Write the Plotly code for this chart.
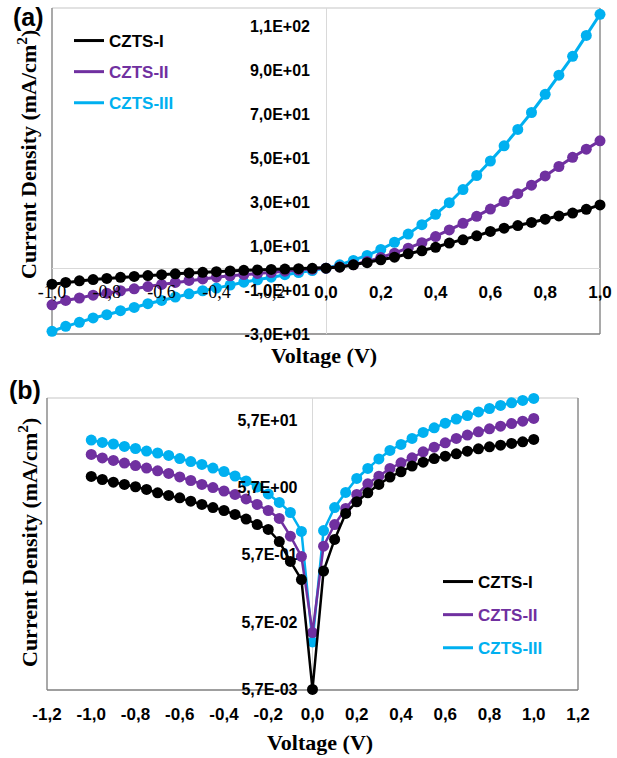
import plotly.graph_objects as go

W, H = 617, 758

# ---------------- data ----------------
voltage = [-1.0, -0.95, -0.9, -0.85, -0.8, -0.75, -0.7, -0.65, -0.6, -0.55, -0.5,
           -0.45, -0.4, -0.35, -0.3, -0.25, -0.2, -0.15, -0.1, -0.05, 0.0,
           0.05, 0.1, 0.15, 0.2, 0.25, 0.3, 0.35, 0.4, 0.45, 0.5,
           0.55, 0.6, 0.65, 0.7, 0.75, 0.8, 0.85, 0.9, 0.95, 1.0]

series_names = ["CZTS-I", "CZTS-II", "CZTS-III"]
series_colors = ["#000000", "#7030a0", "#00b0f0"]

# panel (a): linear current density (mA/cm2)
czts1_a = [-7.3, -6.5, -5.8, -5.2, -4.7, -4.2, -3.8, -3.4, -3.0, -2.6, -2.2,
           -1.9, -1.6, -1.3, -1.0, -0.8, -0.6, -0.4, -0.25, -0.1, 0.0,
           0.45, 1.5, 2.5, 3.8, 5.0, 6.5, 7.9, 9.5, 11.4, 12.9,
           14.7, 16.7, 18.2, 19.4, 20.8, 22.3, 23.8, 25.1, 26.8, 28.8]
czts2_a = [-16.7, -14.7, -13.6, -12.3, -11.4, -10.3, -9.4, -8.4, -7.4, -6.5, -5.6,
           -4.9, -4.1, -3.5, -2.9, -2.4, -2.0, -1.4, -0.9, -0.45, 0.0,
           0.6, 1.6, 3.0, 4.8, 6.8, 9.1, 11.6, 14.4, 17.4, 20.4,
           23.6, 26.9, 30.3, 33.9, 37.8, 42.0, 46.3, 50.5, 54.2, 58.0]
czts3_a = [-28.8, -26.5, -24.7, -22.7, -21.2, -19.4, -17.9, -16.2, -14.7, -13.2, -11.7,
           -10.3, -9.1, -7.7, -6.4, -5.3, -4.1, -3.0, -2.0, -1.1, 0.0,
           1.5, 3.5, 5.8, 8.5, 11.8, 15.5, 19.8, 24.5, 29.8, 35.8,
           42.2, 48.8, 55.7, 63.2, 70.9, 79.2, 87.9, 96.5, 106.0, 115.6]

# panel (b): |J| on log scale (mA/cm2)
czts1_b = [8.33, 7.51, 6.85, 6.34, 5.86, 5.34, 4.77, 4.35, 4.02, 3.58, 3.2,
           2.88, 2.6, 2.27, 1.94, 1.61, 1.36, 0.90, 0.455, 0.245, 0.0057,
           0.327, 0.966, 2.35, 3.51, 4.77, 6.34, 8.15, 9.79, 11.9, 13.6,
           15.4, 16.7, 18.1, 19.8, 21.5, 23.0, 24.3, 25.8, 27.3, 29.6]
czts2_b = [17.7, 15.7, 14.4, 13.2, 12.1, 11.1, 10.1, 9.24, 8.20, 7.26, 6.34,
           5.71, 5.07, 4.50, 3.86, 3.20, 2.60, 1.98, 1.08, 0.54, 0.040,
           0.768, 1.61, 2.79, 4.50, 6.49, 8.41, 10.96, 13.3, 15.8, 19.4,
           22.7, 26.4, 30.6, 34.3, 38.4, 42.6, 46.6, 51.0, 55.3, 60.7]
czts3_b = [29.0, 26.7, 25.3, 23.3, 21.7, 19.9, 18.6, 17.1, 15.4, 13.9, 12.6,
           11.1, 9.88, 8.47, 7.14, 5.82, 4.58, 3.43, 2.43, 1.27, 0.029,
           1.31, 2.88, 4.82, 7.78, 10.96, 15.2, 20.3, 24.9, 30.6, 37.6,
           44.1, 51.6, 59.5, 67.1, 75.7, 85.3, 94.6, 103.7, 112.2, 120.2]

# ticks
xa_tickvals = [-1.0, -0.8, -0.6, -0.4, -0.2, 0.0, 0.2, 0.4, 0.6, 0.8, 1.0]
xa_ticktext = ["-1,0", "-0,8", "-0,6", "-0,4", "-0,2", "0,0", "0,2", "0,4", "0,6", "0,8", "1,0"]
ya_tickvals = [-30, -10, 10, 30, 50, 70, 90, 110]
ya_ticktext = ["-3,0E+01", "-1,0E+01", "1,0E+01", "3,0E+01", "5,0E+01", "7,0E+01", "9,0E+01", "1,1E+02"]
xb_tickvals = [-1.2, -1.0, -0.8, -0.6, -0.4, -0.2, 0.0, 0.2, 0.4, 0.6, 0.8, 1.0, 1.2]
xb_ticktext = ["-1,2", "-1,0", "-0,8", "-0,6", "-0,4", "-0,2", "0,0", "0,2", "0,4", "0,6", "0,8", "1,0", "1,2"]
yb_tickvals = [0.0057, 0.057, 0.57, 5.7, 57]
yb_ticktext = ["5,7E-03", "5,7E-02", "5,7E-01", "5,7E+00", "5,7E+01"]

# ---------------- layout geometry ----------------
def px_x(p):
    return p / W

def px_y(p):
    return 1 - p / H

xa_dom = [px_x(52), px_x(600)]
ya_dom = [px_y(334), px_y(8)]
ya_range = [-30, 118.5]
xb_dom = [px_x(47), px_x(578)]
yb_dom = [px_y(690), px_y(398)]
yb_range = [-2.252, 2.0868]

xa_pos = ya_dom[0] + (0 - ya_range[0]) / (ya_range[1] - ya_range[0]) * (ya_dom[1] - ya_dom[0])
ya_pos = xa_dom[0] + 0.5 * (xa_dom[1] - xa_dom[0])
yb_pos = xb_dom[0] + 0.5 * (xb_dom[1] - xb_dom[0])

SANS = "Liberation Sans"
SERIF = "Liberation Serif"

fig = go.Figure()

data_a = [czts1_a, czts2_a, czts3_a]
data_b = [czts1_b, czts2_b, czts3_b]

# draw order: CZTS-III, CZTS-II, CZTS-I on top
for i in [2, 1, 0]:
    fig.add_trace(go.Scatter(x=voltage, y=data_a[i], mode="lines+markers",
                             line=dict(color=series_colors[i], width=3),
                             marker=dict(color=series_colors[i], size=11),
                             showlegend=False, cliponaxis=False,
                             xaxis="x", yaxis="y"))
    fig.add_trace(go.Scatter(x=voltage, y=data_b[i], mode="lines+markers",
                             line=dict(color=series_colors[i], width=2.5),
                             marker=dict(color=series_colors[i], size=11),
                             showlegend=False, cliponaxis=False,
                             xaxis="x2", yaxis="y2"))

# legend entries (line samples only)
for i in range(3):
    label = "<span style='color:%s'>%s</span>" % (series_colors[i], series_names[i])
    fig.add_trace(go.Scatter(x=[None], y=[None], mode="lines", name=label,
                             line=dict(color=series_colors[i], width=3),
                             legend="legend", legendgroup="a%d" % i,
                             xaxis="x", yaxis="y"))
    fig.add_trace(go.Scatter(x=[None], y=[None], mode="lines", name=label,
                             line=dict(color=series_colors[i], width=3),
                             legend="legend2", legendgroup="b%d" % i,
                             xaxis="x2", yaxis="y2"))

neg_style = "font-family:%s;font-weight:normal;font-size:18px" % SERIF
xa_text_styled = []
for v, t in zip(xa_tickvals, xa_ticktext):
    if v < 0:
        xa_text_styled.append("<span style='%s'>%s</span>" % (neg_style, t))
    else:
        xa_text_styled.append(t)

tickfont = dict(family=SANS, size=16, color="#000000", weight="bold")
tickfont17 = dict(family=SANS, size=17, color="#000000", weight="bold")

fig.update_layout(
    template="none",
    width=W, height=H,
    margin=dict(l=0, r=0, t=0, b=0, pad=0, autoexpand=False),
    paper_bgcolor="white", plot_bgcolor="white",
    xaxis=dict(domain=xa_dom, range=[-1, 1], anchor="free", position=xa_pos,
               automargin=False,
               showline=False, showgrid=False, zeroline=True, zerolinecolor="#d9d9d9",
               zerolinewidth=1, tickvals=xa_tickvals, ticktext=xa_text_styled,
               ticks="", tickfont=tickfont17, ticklabelstandoff=12),
    yaxis=dict(domain=ya_dom, range=ya_range, anchor="free", position=ya_pos,
               automargin=False,
               showline=False, showgrid=False, zeroline=True, zerolinecolor="#d9d9d9",
               zerolinewidth=1, tickvals=ya_tickvals, ticktext=ya_ticktext,
               ticks="", tickfont=tickfont, ticklabelstandoff=16),
    xaxis2=dict(domain=xb_dom, range=[-1.2, 1.2], anchor="y2",
                automargin=False,
                showline=False, showgrid=False, zeroline=True, zerolinecolor="#d9d9d9",
                zerolinewidth=1, tickvals=xb_tickvals, ticktext=xb_ticktext,
                ticks="", tickfont=tickfont17, ticklabelstandoff=12),
    yaxis2=dict(domain=yb_dom, type="log", range=yb_range, anchor="free", position=yb_pos,
                automargin=False,
                showline=False, showgrid=False, zeroline=False,
                tickvals=yb_tickvals, ticktext=yb_ticktext,
                ticks="", tickfont=tickfont, ticklabelstandoff=15),
    legend=dict(x=px_x(69), y=px_y(23), xanchor="left", yanchor="top",
                bgcolor="rgba(0,0,0,0)", borderwidth=0, tracegroupgap=6,
                font=dict(family=SANS, size=17, weight="bold")),
    legend2=dict(x=px_x(438), y=px_y(564), xanchor="left", yanchor="top",
                 bgcolor="rgba(0,0,0,0)", borderwidth=0, tracegroupgap=8,
                 font=dict(family=SANS, size=17, weight="bold")),
)

# plot-area borders
for xr, yr in [("x domain", "y domain"), ("x2 domain", "y2 domain")]:
    fig.add_shape(type="line", xref=xr, yref=yr, x0=0, x1=1, y0=1, y1=1,
                  line=dict(color="#d9d9d9", width=1.5), layer="below")
    fig.add_shape(type="line", xref=xr, yref=yr, x0=0, x1=0, y0=0, y1=1,
                  line=dict(color="#8c8c8c", width=1.5), layer="below")
    fig.add_shape(type="line", xref=xr, yref=yr, x0=1, x1=1, y0=0, y1=1,
                  line=dict(color="#8c8c8c", width=1.5), layer="below")
    fig.add_shape(type="line", xref=xr, yref=yr, x0=0, x1=1, y0=0, y1=0,
                  line=dict(color="#7f7f7f", width=1.5), layer="below")

title_font = dict(family=SERIF, size=22, color="#000000", weight="bold")
anns = [
    dict(text="(a)", x=px_x(28), y=px_y(17), font=dict(family=SANS, size=25, weight="bold", color="#000")),
    dict(text="(b)", x=px_x(25), y=px_y(390), font=dict(family=SANS, size=25, weight="bold", color="#000")),
    dict(text="Current Density (mA/cm<sup>2</sup>)", x=px_x(27), y=px_y(155), textangle=-90, font=title_font),
    dict(text="Current Density (mA/cm<sup>2</sup>)", x=px_x(28), y=px_y(543), textangle=-90, font=title_font),
    dict(text="Voltage (V)", x=px_x(324), y=px_y(355), font=title_font),
    dict(text="Voltage (V)", x=px_x(320), y=px_y(742), font=title_font),
]
for a in anns:
    fig.add_annotation(xref="paper", yref="paper", showarrow=False,
                       xanchor="center", yanchor="middle", **a)

fig.write_html("out.html")
